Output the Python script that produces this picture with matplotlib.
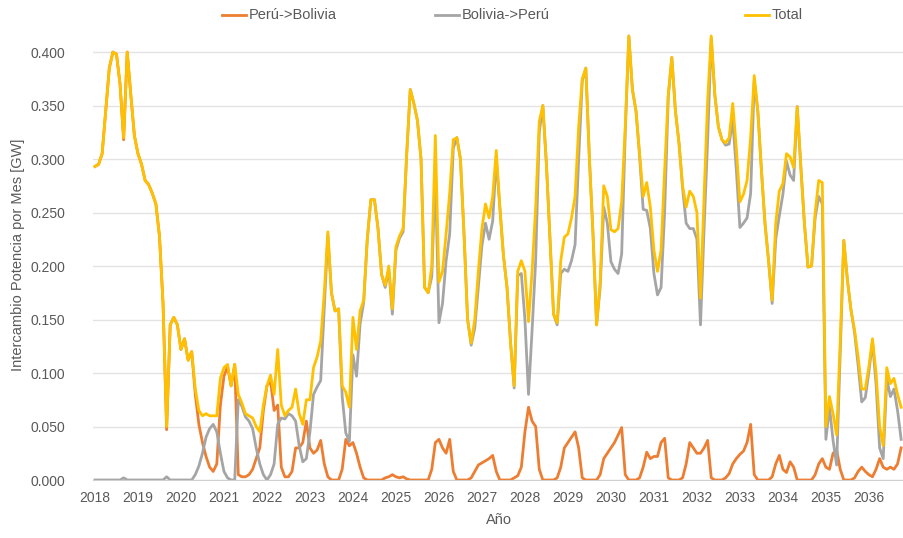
import numpy as np
import matplotlib
matplotlib.use("Agg")
import matplotlib.pyplot as plt
from matplotlib.lines import Line2D

plt.rcParams['font.family'] = ['Liberation Sans Narrow', 'Liberation Sans', 'DejaVu Sans']

# Monthly exchange, Jan 2018 .. Oct 2036 [GW]
peru_bolivia = [
    # 2018
    0.293, 0.295, 0.305, 0.345, 0.385, 0.400, 0.398, 0.370, 0.318, 0.400, 0.360, 0.322,
    # 2019
    0.305, 0.295, 0.280, 0.276, 0.268, 0.258, 0.228, 0.165, 0.047, 0.145, 0.152, 0.145,
    # 2020
    0.122, 0.132, 0.112, 0.120, 0.080, 0.052, 0.035, 0.022, 0.012, 0.008, 0.015, 0.070,
    # 2021
    0.097, 0.106, 0.088, 0.108, 0.005, 0.003, 0.003, 0.005, 0.010, 0.020, 0.030, 0.065,
    # 2022
    0.088, 0.093, 0.065, 0.070, 0.012, 0.003, 0.003, 0.008, 0.030, 0.030, 0.035, 0.055,
    # 2023
    0.030, 0.025, 0.028, 0.037, 0.015, 0.003, 0.000, 0.000, 0.000, 0.010, 0.038, 0.032,
    # 2024
    0.035, 0.025, 0.012, 0.002, 0.000, 0.000, 0.000, 0.000, 0.000, 0.002, 0.003, 0.005,
    # 2025
    0.003, 0.002, 0.003, 0.001, 0.000, 0.000, 0.000, 0.000, 0.000, 0.000, 0.010, 0.035,
    # 2026
    0.038, 0.030, 0.025, 0.038, 0.008, 0.000, 0.000, 0.000, 0.000, 0.002, 0.008, 0.014,
    # 2027
    0.016, 0.018, 0.020, 0.023, 0.008, 0.000, 0.000, 0.000, 0.000, 0.002, 0.004, 0.012,
    # 2028
    0.045, 0.068, 0.055, 0.050, 0.010, 0.000, 0.000, 0.000, 0.000, 0.002, 0.012, 0.030,
    # 2029
    0.035, 0.040, 0.045, 0.030, 0.002, 0.000, 0.000, 0.000, 0.000, 0.005, 0.020, 0.025,
    # 2030
    0.030, 0.035, 0.042, 0.049, 0.005, 0.000, 0.000, 0.000, 0.002, 0.012, 0.026, 0.020,
    # 2031
    0.022, 0.022, 0.035, 0.039, 0.002, 0.000, 0.000, 0.000, 0.002, 0.015, 0.035, 0.030,
    # 2032
    0.025, 0.025, 0.030, 0.037, 0.002, 0.000, 0.000, 0.000, 0.002, 0.006, 0.015, 0.020,
    # 2033
    0.024, 0.027, 0.035, 0.052, 0.005, 0.000, 0.000, 0.000, 0.000, 0.003, 0.015, 0.023,
    # 2034
    0.010, 0.007, 0.017, 0.012, 0.000, 0.000, 0.000, 0.000, 0.000, 0.005, 0.015, 0.020,
    # 2035
    0.012, 0.010, 0.025, 0.028, 0.010, 0.000, 0.000, 0.000, 0.002, 0.008, 0.012, 0.008,
    # 2036
    0.005, 0.003, 0.010, 0.020, 0.012, 0.010, 0.012, 0.010, 0.015, 0.030,
]

bolivia_peru = [
    # 2018
    0.000, 0.000, 0.000, 0.000, 0.000, 0.000, 0.000, 0.000, 0.002, 0.000, 0.000, 0.000,
    # 2019
    0.000, 0.000, 0.000, 0.000, 0.000, 0.000, 0.000, 0.000, 0.003, 0.000, 0.000, 0.000,
    # 2020
    0.000, 0.000, 0.000, 0.000, 0.005, 0.013, 0.025, 0.040, 0.048, 0.052, 0.045, 0.025,
    # 2021
    0.008, 0.002, 0.000, 0.000, 0.075, 0.069, 0.059, 0.055, 0.048, 0.030, 0.015, 0.005,
    # 2022
    0.000, 0.005, 0.015, 0.052, 0.058, 0.057, 0.062, 0.060, 0.055, 0.032, 0.017, 0.020,
    # 2023
    0.045, 0.080, 0.087, 0.093, 0.160, 0.229, 0.175, 0.158, 0.160, 0.078, 0.044, 0.036,
    # 2024
    0.117, 0.097, 0.146, 0.166, 0.225, 0.262, 0.262, 0.235, 0.192, 0.180, 0.197, 0.155,
    # 2025
    0.215, 0.226, 0.232, 0.304, 0.365, 0.352, 0.336, 0.300, 0.180, 0.175, 0.190, 0.287,
    # 2026
    0.147, 0.165, 0.205, 0.230, 0.310, 0.320, 0.300, 0.230, 0.150, 0.126, 0.142, 0.181,
    # 2027
    0.219, 0.240, 0.225, 0.242, 0.300, 0.255, 0.210, 0.180, 0.128, 0.086, 0.191, 0.193,
    # 2028
    0.150, 0.080, 0.140, 0.205, 0.325, 0.350, 0.295, 0.225, 0.155, 0.145, 0.193, 0.197,
    # 2029
    0.195, 0.205, 0.220, 0.300, 0.373, 0.385, 0.300, 0.230, 0.145, 0.180, 0.255, 0.240,
    # 2030
    0.204, 0.197, 0.193, 0.211, 0.325, 0.415, 0.365, 0.345, 0.303, 0.253, 0.252, 0.235,
    # 2031
    0.193, 0.173, 0.180, 0.251, 0.358, 0.395, 0.345, 0.315, 0.273, 0.240, 0.235, 0.235,
    # 2032
    0.225, 0.145, 0.235, 0.318, 0.413, 0.360, 0.330, 0.318, 0.313, 0.314, 0.337, 0.290,
    # 2033
    0.236, 0.240, 0.245, 0.268, 0.373, 0.345, 0.290, 0.240, 0.205, 0.165, 0.225, 0.247,
    # 2034
    0.267, 0.298, 0.285, 0.280, 0.349, 0.293, 0.240, 0.199, 0.200, 0.245, 0.265, 0.258,
    # 2035
    0.038, 0.068, 0.037, 0.014, 0.120, 0.224, 0.187, 0.159, 0.138, 0.107, 0.073, 0.077,
    # 2036
    0.101, 0.129, 0.090, 0.030, 0.020, 0.095, 0.078, 0.085, 0.065, 0.038,
]

years = list(range(2018, 2037))
series_names = ["Perú->Bolivia", "Bolivia->Perú", "Total"]
series_colors = ["#ED7D31", "#A5A5A5", "#FFC000"]

pb = np.array(peru_bolivia)
bp = np.array(bolivia_peru)
total = pb + bp
months = np.arange(len(pb))

W, H = 904, 538
fig = plt.figure(figsize=(W / 100, H / 100), dpi=100)
ax = fig.add_axes([93 / W, 58 / H, 811 / W, 450 / H])

for y, c in zip([pb, bp, total], series_colors):
    ax.plot(months, y, color=c, lw=2.0, solid_joinstyle="round")

ax.set_xlim(-0.55, len(pb) - 0.2)
ax.set_ylim(0, 0.4206)
ax.set_yticks(np.arange(0, 0.401, 0.05))
ax.yaxis.set_major_formatter(matplotlib.ticker.FormatStrFormatter("%.3f"))
ax.set_xticks(np.arange(0, len(pb), 12))
ax.set_xticklabels([str(y) for y in years])

ax.grid(axis="y", color="#E3E3E3", lw=1.0)
ax.set_axisbelow(True)
for s in ["top", "right", "left"]:
    ax.spines[s].set_visible(False)
ax.spines["bottom"].set_color("#D0D0D0")
ax.tick_params(axis="both", length=0, colors="#595959", labelsize=10)
ax.tick_params(axis="x", pad=8)
ax.tick_params(axis="y", pad=20)

ax.set_xlabel("Año", fontsize=10.5, color="#595959", labelpad=6)
ax.set_ylabel("Intercambio Potencia por Mes [GW]", fontsize=10.5, color="#595959", labelpad=4)

# legend entries across the top
legend_x = [222, 435, 745]
for x0, name, c in zip(legend_x, series_names, series_colors):
    yy = 1 - 15 / H
    fig.add_artist(Line2D([x0 / W, (x0 + 24) / W], [yy, yy], color=c, lw=2.0))
    fig.text((x0 + 27) / W, yy, name, fontsize=10.5, color="#595959", va="center", ha="left")

fig.savefig("out.png", dpi=100)
